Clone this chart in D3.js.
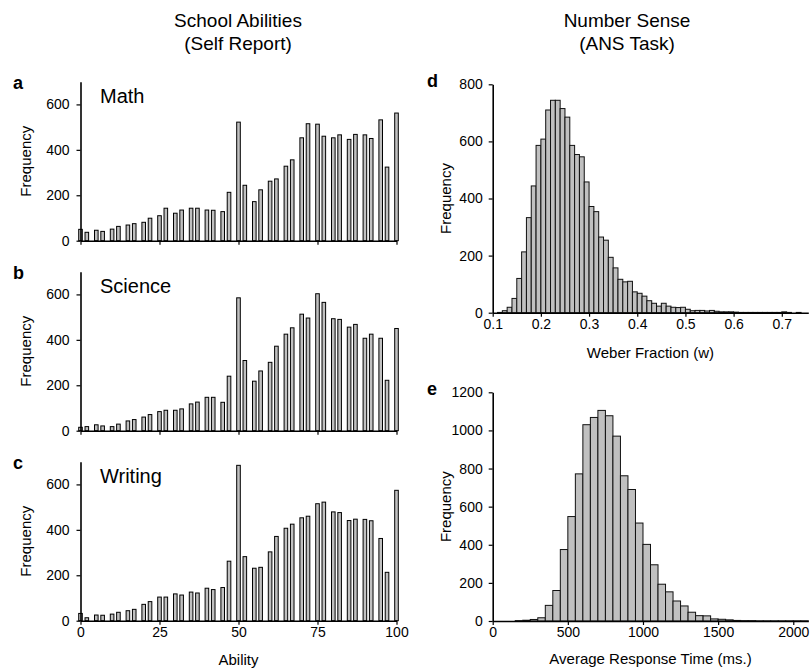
<!DOCTYPE html>
<html>
<head>
<meta charset="utf-8">
<script src="https://cdn.jsdelivr.net/npm/d3@7"></script>
<style>
  body { margin: 0; background: #fff; }
  svg { display: block; font-family: "Liberation Sans", Arial, sans-serif; }
  .axis text { font-size: 14px; fill: #000; }
  .axis path, .axis line { stroke: #000; }
</style>
</head>
<body>
<div id="chart"></div>
<script>
// ability scores that got a bar (self report, 0-100)
var abilityValues = [0, 2, 5, 7, 10, 12, 15, 17, 20, 22, 25, 27, 30, 32, 35, 37, 40, 42, 45, 47,
  50, 52, 55, 57, 60, 62, 65, 67, 70, 72, 75, 77, 80, 82, 85, 87, 90, 92, 95, 97, 100];

var mathFreq = [50, 37, 46, 41, 51, 63, 69, 75, 81, 99, 110, 143, 121, 135, 143, 143, 135, 134, 128, 213,
  522, 244, 172, 224, 262, 272, 328, 356, 453, 515, 513, 460, 453, 466, 446, 468, 466, 450, 532, 324, 562];

var scienceFreq = [15, 18, 26, 21, 18, 29, 43, 49, 60, 71, 84, 90, 90, 96, 118, 126, 147, 147, 125, 240,
  585, 309, 218, 263, 301, 372, 425, 453, 513, 496, 603, 565, 493, 490, 456, 468, 407, 425, 407, 222, 450];

var writingFreq = [32, 13, 25, 24, 29, 37, 44, 50, 72, 84, 104, 104, 118, 113, 126, 122, 143, 137, 146, 262,
  684, 282, 231, 235, 303, 371, 407, 425, 453, 460, 515, 522, 479, 476, 441, 447, 446, 440, 362, 213, 574];

var abilityTicks = [0, 25, 50, 75, 100];
var abilityFreqTicks = [0, 200, 400, 600];

// Weber fraction histogram, bins of 0.01 (lower edges)
var weberEdges = [0.11, 0.12, 0.13, 0.14, 0.15, 0.16, 0.17, 0.18, 0.19, 0.20,
  0.21, 0.22, 0.23, 0.24, 0.25, 0.26, 0.27, 0.28, 0.29, 0.30,
  0.31, 0.32, 0.33, 0.34, 0.35, 0.36, 0.37, 0.38, 0.39, 0.40,
  0.41, 0.42, 0.43, 0.44, 0.45, 0.46, 0.47, 0.48, 0.49, 0.50,
  0.51, 0.52, 0.53, 0.54, 0.55, 0.56, 0.57, 0.58, 0.59, 0.60,
  0.61, 0.62, 0.63, 0.64, 0.65, 0.66, 0.67, 0.68, 0.69, 0.70,
  0.71, 0.72, 0.73, 0.74];
var weberFreq = [1, 7, 19, 50, 120, 213, 333, 444, 586, 608,
  710, 744, 744, 715, 685, 586, 554, 546, 458, 372,
  354, 265, 254, 194, 157, 117, 108, 110, 73, 68,
  58, 42, 33, 23, 33, 23, 19, 18, 19, 12,
  7, 8, 8, 6, 8, 5, 3, 3, 3, 2,
  1, 1, 1, 1, 1, 1, 1, 1, 1, 3,
  1, 0, 1, 0];
var weberBinWidth = 0.01;
var weberTicks = [0.1, 0.2, 0.3, 0.4, 0.5, 0.6, 0.7];
var weberFreqTicks = [0, 200, 400, 600, 800];

// average response time histogram, bins of 50 ms (lower edges)
var rtEdges = [150, 200, 250, 300, 350, 400, 450, 500, 550, 600, 650, 700, 750, 800, 850, 900, 950,
  1000, 1050, 1100, 1150, 1200, 1250, 1300, 1350, 1400, 1450, 1500, 1550, 1600, 1650, 1700,
  1750, 1800, 1850, 1900, 1950, 2000, 2050];
var rtFreq = [2, 4, 8, 17, 82, 160, 375, 548, 772, 1030, 1068, 1105, 1077, 970, 762, 690, 514,
  402, 295, 193, 153, 105, 79, 46, 28, 27, 11, 9, 6, 3, 2, 2,
  1, 1, 1, 1, 1, 1, 1];
var rtBinWidth = 50;
var rtTicks = [0, 500, 1000, 1500, 2000];
var rtFreqTicks = [0, 200, 400, 600, 800, 1000, 1200];

var W = 810, H = 668;
var barFill = "#c0c0c0";

var svg = d3.select("#chart").append("svg")
  .attr("width", W).attr("height", H);

function styleAxis(g) {
  g.attr("class", "axis");
  g.select(".domain").attr("stroke-width", 1.6);
  g.selectAll(".tick line").attr("stroke-width", 1.2);
}

function drawAbilityPanel(top, freq, name, letter, showTickLabels) {
  var x = d3.scaleLinear().domain([0, 100]).range([80.5, 396.5]);
  var y = d3.scaleLinear().domain([0, 700]).range([top + 159, top]);
  var g = svg.append("g");

  g.selectAll("rect").data(abilityValues).enter().append("rect")
    .attr("x", (d) => x(d) - 1.8)
    .attr("width", 3.6)
    .attr("y", (d, i) => y(freq[i]))
    .attr("height", (d, i) => y(0) - y(freq[i]))
    .attr("fill", barFill)
    .attr("stroke", "#000")
    .attr("stroke-width", 1);

  var xa = d3.axisBottom(x).tickValues(abilityTicks).tickSize(4).tickSizeOuter(0).tickPadding(2);
  if (!showTickLabels) xa.tickFormat("");
  g.append("g").attr("transform", "translate(0," + y(0) + ")").call(xa).call(styleAxis);

  var ya = d3.axisLeft(y).tickValues(abilityFreqTicks).tickSize(4).tickSizeOuter(0).tickPadding(7);
  g.append("g").attr("transform", "translate(" + x(0) + ",0)").call(ya).call(styleAxis);

  g.append("text").attr("x", 100).attr("y", top + 21)
    .attr("font-size", 20).text(name);
  g.append("text").attr("x", 13).attr("y", top + 7)
    .attr("font-size", 18).attr("font-weight", "bold").text(letter);
  g.append("text")
    .attr("transform", "translate(31," + (top + 79.5) + ") rotate(-90)")
    .attr("text-anchor", "middle").attr("font-size", 15).text("Frequency");
  return x;
}

function drawHistPanel(opts) {
  var x = d3.scaleLinear().domain(opts.xDomain).range([492.7, 808.3]);
  var y = d3.scaleLinear().domain([0, opts.yMax]).range([opts.bottom, opts.top]);
  var g = svg.append("g");

  var bins = opts.edges.map((e, i) => ({ x0: e, n: opts.freq[i] }))
    .filter((b) => b.n > 0);

  g.selectAll("rect").data(bins).enter().append("rect")
    .attr("x", (d) => x(d.x0))
    .attr("width", (d) => x(d.x0 + opts.binWidth) - x(d.x0))
    .attr("y", (d) => y(d.n))
    .attr("height", (d) => y(0) - y(d.n))
    .attr("fill", barFill)
    .attr("stroke", "#111")
    .attr("stroke-width", 1);

  var xa = d3.axisBottom(x).tickValues(opts.xTicks).tickSize(4).tickSizeOuter(0).tickPadding(2)
    .tickFormat(opts.xFormat);
  g.append("g").attr("transform", "translate(0," + opts.bottom + ")").call(xa).call(styleAxis);

  var ya = d3.axisLeft(y).tickValues(opts.yTicks).tickSize(4).tickSizeOuter(0).tickPadding(6)
    .tickFormat(d3.format("d"));
  g.append("g").attr("transform", "translate(" + x.range()[0] + ",0)").call(ya).call(styleAxis);

  g.append("text").attr("x", 427).attr("y", opts.top + 3)
    .attr("font-size", 18).attr("font-weight", "bold").text(opts.letter);
  g.append("text")
    .attr("transform", "translate(451," + ((opts.top + opts.bottom) / 2) + ") rotate(-90)")
    .attr("text-anchor", "middle").attr("font-size", 15).text("Frequency");
  g.append("text").attr("x", 650.5).attr("y", opts.labelY)
    .attr("text-anchor", "middle").attr("font-size", 15).text(opts.xLabel);
}

// column titles
svg.append("text").attr("x", 238).attr("y", 27).attr("text-anchor", "middle")
  .attr("font-size", 19).text("School Abilities");
svg.append("text").attr("x", 238).attr("y", 50).attr("text-anchor", "middle")
  .attr("font-size", 19).text("(Self Report)");
svg.append("text").attr("x", 627).attr("y", 27).attr("text-anchor", "middle")
  .attr("font-size", 19).text("Number Sense");
svg.append("text").attr("x", 627).attr("y", 50).attr("text-anchor", "middle")
  .attr("font-size", 19).text("(ANS Task)");

drawAbilityPanel(81.7, mathFreq, "Math", "a", false);
drawAbilityPanel(271.7, scienceFreq, "Science", "b", false);
drawAbilityPanel(461.7, writingFreq, "Writing", "c", true);

svg.append("text").attr("x", 238.5).attr("y", 665).attr("text-anchor", "middle")
  .attr("font-size", 15).text("Ability");

drawHistPanel({
  edges: weberEdges, freq: weberFreq, binWidth: weberBinWidth,
  xDomain: [0.1, 0.755], yMax: 800, top: 84.3, bottom: 312.7,
  xTicks: weberTicks, yTicks: weberFreqTicks, xFormat: d3.format(".1f"),
  letter: "d", xLabel: "Weber Fraction (w)", labelY: 358
});

drawHistPanel({
  edges: rtEdges, freq: rtFreq, binWidth: rtBinWidth,
  xDomain: [0, 2100], yMax: 1200, top: 392.3, bottom: 621,
  xTicks: rtTicks, yTicks: rtFreqTicks, xFormat: d3.format("d"),
  letter: "e", xLabel: "Average Response Time (ms.)", labelY: 664
});
</script>
</body>
</html>
